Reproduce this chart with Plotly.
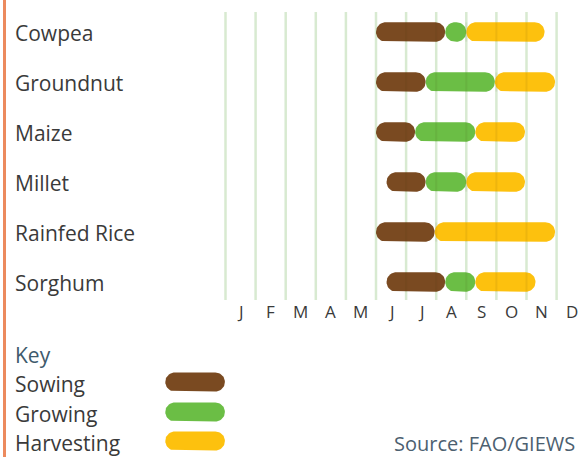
import numpy as np
import plotly.graph_objects as go

# ---- data -------------------------------------------------------------
crops = ["Cowpea", "Groundnut", "Maize", "Millet", "Rainfed Rice", "Sorghum"]
months = ["J", "F", "M", "A", "M", "J", "J", "A", "S", "O", "N", "D"]

# stage periods as [start, end] in months from 1 January (None = no stage)
sowing = [[5.0, 7.3], [5.0, 6.65], [5.0, 6.3], [5.35, 6.65], [5.0, 6.95], [5.35, 7.3]]
growing = [[7.3, 8.0], [6.65, 8.95], [6.3, 8.3], [6.65, 8.0], None, [7.3, 8.3]]
harvesting = [[8.0, 10.6], [8.95, 10.95], [8.3, 9.95], [8.0, 9.95], [6.95, 10.95], [8.3, 10.3]]

stages = ["Sowing", "Growing", "Harvesting"]
stage_colors = ["#7A4A21", "#6BBE45", "#FDC10E"]

# ---- page geometry ----------------------------------------------------
W, H = 580, 457
JAN_PX, PX_PER_MONTH = 225.5, 30.1     # x pixel of 1 January, pixels per month
ROW0_PX, PX_PER_ROW = 32.0, 50.0       # y pixel of first row centre, row pitch
BAR_R = 9.8                            # pill radius in pixels

x_range = [(0 - JAN_PX) / PX_PER_MONTH, (W - JAN_PX) / PX_PER_MONTH]
y_range = [(H - ROW0_PX) / PX_PER_ROW, (0 - ROW0_PX) / PX_PER_ROW]


def pill(start, end, row, r=BAR_R):
    """Outline of a rounded bar spanning [start, end] months on a row."""
    x0 = JAN_PX + start * PX_PER_MONTH
    x1 = JAN_PX + end * PX_PER_MONTH
    yc = ROW0_PX + row * PX_PER_ROW
    cl, cr = x0 + r, x1 - r
    if cr < cl:
        cl = cr = (x0 + x1) / 2
        r = min(r, (x1 - x0) / 2)
    a_r = np.linspace(-np.pi / 2, np.pi / 2, 25)
    a_l = np.linspace(np.pi / 2, 3 * np.pi / 2, 25)
    px = np.concatenate([cr + r * np.cos(a_r), cl + r * np.cos(a_l)])
    py = np.concatenate([yc + r * np.sin(a_r), yc + r * np.sin(a_l)])
    xs = (px - JAN_PX) / PX_PER_MONTH
    ys = (py - ROW0_PX) / PX_PER_ROW
    return list(xs) + [xs[0]], list(ys) + [ys[0]]


fig = go.Figure()

# crop calendar bars
for periods, color in zip([sowing, growing, harvesting], stage_colors):
    for row, per in enumerate(periods):
        if per is None:
            continue
        xs, ys = pill(per[0], per[1], row)
        fig.add_trace(go.Scatter(x=xs, y=ys, mode="lines", fill="toself",
                                 fillcolor=color, line=dict(width=0, color=color),
                                 hoverinfo="skip", showlegend=False))

# key swatches
key_rows = [7.0, 7.6, 8.18]
for krow, color in zip(key_rows, stage_colors):
    xs, ys = pill(-2.0, -0.02, krow, r=9.5)
    fig.add_trace(go.Scatter(x=xs, y=ys, mode="lines", fill="toself",
                             fillcolor=color, line=dict(width=0, color=color),
                             hoverinfo="skip", showlegend=False))

# overall span of each crop's season
spans = []
for row in range(len(crops)):
    pers = [p[row] for p in (sowing, growing, harvesting) if p[row] is not None]
    spans.append((min(p[0] for p in pers), max(p[1] for p in pers)))

shapes = []
# month boundary grid lines
for m in range(len(months)):
    shapes.append(dict(type="line", xref="x", yref="y", x0=m, x1=m,
                       y0=-0.4, y1=5.36, layer="below",
                       line=dict(color="#D8EAD1", width=2.5)))
    # faint trace of the grid line showing through the bars
    for row, (s, e) in enumerate(spans):
        if s + 0.15 < m < e - 0.15:
            shapes.append(dict(type="line", xref="x", yref="y", x0=m, x1=m,
                               y0=row - 0.19, y1=row + 0.19, layer="above",
                               line=dict(color="rgba(70,50,10,0.08)", width=2)))
# orange rule down the left edge
shapes.append(dict(type="line", xref="paper", yref="paper", x0=4.5 / W, x1=4.5 / W,
                   y0=0, y1=1, line=dict(color="#EC8A5E", width=3)))

FONT = "Open Sans, sans-serif"
annotations = []
text_font = dict(family=FONT, size=21, color="#3A3A3A")
for row, name in enumerate(crops):
    annotations.append(dict(x=13 / W, xref="paper", y=row + 0.02, yref="y", text=name,
                            showarrow=False, xanchor="left", yanchor="middle",
                            font=text_font))
for m, lab in enumerate(months):
    annotations.append(dict(x=m + 0.5, xref="x", y=5.58, yref="y", text=lab,
                            showarrow=False, xanchor="center", yanchor="middle",
                            font=dict(family=FONT, size=17, color="#3A3A3A")))
annotations.append(dict(x=13 / W, xref="paper", y=6.46, yref="y", text="Key",
                        showarrow=False, xanchor="left", yanchor="middle",
                        font=dict(family=FONT, size=21, color="#3E5A6C")))
for krow, name in zip(key_rows, stages):
    annotations.append(dict(x=13 / W, xref="paper", y=krow + 0.04, yref="y", text=name,
                            showarrow=False, xanchor="left", yanchor="middle",
                            font=text_font))
annotations.append(dict(x=392 / W, xref="paper", y=8.22, yref="y",
                        text="Source: FAO/GIEWS", showarrow=False,
                        xanchor="left", yanchor="middle",
                        font=dict(family=FONT, size=20, color="#4C6070")))

fig.update_layout(
    width=W, height=H,
    margin=dict(l=0, r=0, t=0, b=0),
    paper_bgcolor="white", plot_bgcolor="white",
    xaxis=dict(range=x_range, visible=False, fixedrange=True),
    yaxis=dict(range=y_range, visible=False, fixedrange=True),
    shapes=shapes, annotations=annotations,
    showlegend=False,
)

fig.write_html("out.html", config={"displayModeBar": False})
